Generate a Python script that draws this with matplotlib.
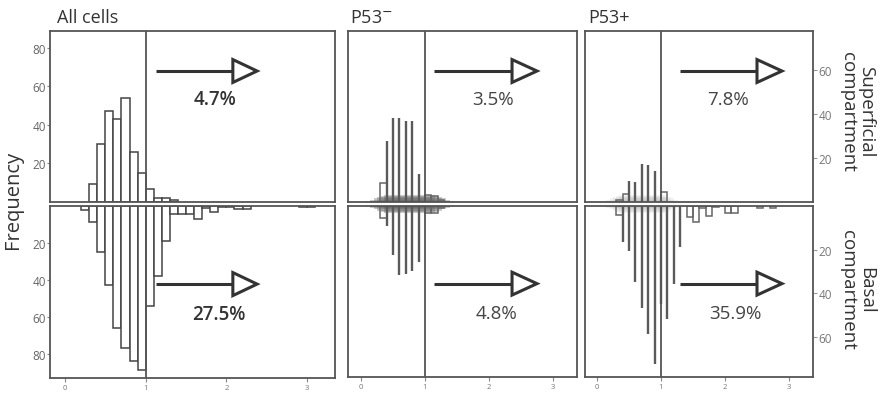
import numpy as np
import matplotlib
matplotlib.use('Agg')
import matplotlib.pyplot as plt
from matplotlib.patches import Polygon
from matplotlib.transforms import blended_transform_factory

plt.rcParams['font.family'] = ['Open Sans', 'DejaVu Sans']

# histogram bins (left edges, width 0.1) and counts
all_top_bins = [0.3, 0.4, 0.5, 0.6, 0.7, 0.8, 0.9, 1.0, 1.1, 1.2, 1.3]
all_top_counts = [9.5, 30, 47, 43, 54, 26, 15, 6.5, 2, 2, 1]
all_bot_bins = [0.2, 0.3, 0.4, 0.5, 0.6, 0.7, 0.8, 0.9, 1.0, 1.1, 1.2, 1.3, 1.4,
                1.5, 1.6, 1.7, 1.8, 1.9, 2.0, 2.1, 2.2, 2.9, 3.0]
all_bot_counts = [2, 8.6, 25, 42.7, 66, 77, 84, 88.6, 54, 38, 19, 4.5, 4.5,
                  4.5, 7, 1, 3.5, 0.5, 0.5, 1.5, 1.5, 0.4, 0.5]

neg_top_bins = [0.3, 0.4, 0.5, 0.6, 0.7, 0.8, 0.9, 1.0, 1.1, 1.2]
neg_top_counts = [8.6, 27.7, 38, 38, 37, 37, 12.7, 3, 2.5, 1]
neg_bot_bins = [0.3, 0.4, 0.5, 0.6, 0.7, 0.8, 0.9, 1.0, 1.1, 1.2]
neg_bot_counts = [5.5, 9.2, 22.4, 31.6, 31.3, 30, 25.7, 3, 3, 1]

pos_top_bins = [0.3, 0.4, 0.5, 0.6, 0.7, 0.8, 0.9, 1.0]
pos_top_counts = [1, 3.6, 9.6, 9.2, 17.3, 16.8, 14.2, 4.5]
pos_bot_bins = [0.3, 0.4, 0.5, 0.6, 0.7, 0.8, 0.9, 1.0, 1.1, 1.2, 1.3, 1.4,
                1.5, 1.6, 1.7, 1.8, 2.0, 2.1, 2.5, 2.7]
pos_bot_counts = [4, 16.5, 20.5, 35, 47, 59, 72.6, 45, 52, 36, 19, 5,
                  7.4, 1, 4.6, 0.5, 3, 3, 1, 1]

titles = ['All cells', 'P53$^{-}$', 'P53+']
pct_top = ['4.7%', '3.5%', '7.8%']
pct_bot = ['27.5%', '4.8%', '35.9%']
left_ticks = [20, 40, 60, 80]
right_ticks = [20, 40, 60]
x_ticks = [0, 1, 2, 3]

W, H = 887, 402
fig = plt.figure(figsize=(W / 100, H / 100), dpi=100)
fig.patch.set_facecolor('white')

edge = '#555555'


def px_axes(l, t, r, b):
    return fig.add_axes([l / W, 1 - b / H, (r - l) / W, (b - t) / H])


def style(ax):
    for s in ax.spines.values():
        s.set_color(edge)
        s.set_linewidth(1.3)
    ax.set_xticks([])
    ax.set_yticks([])


def boxes(ax, bins, counts):
    ax.bar(bins, counts, width=0.1, align='edge', facecolor='white',
           edgecolor='#444444', linewidth=1.1, zorder=2)


def lines(ax, bins, counts, cut=9):
    b = np.array(bins)
    c = np.array(counts)
    small = c < cut
    ax.bar(b[small], c[small], width=0.1, align='edge', facecolor='none',
           edgecolor='#666666', linewidth=1.1, zorder=2)
    ax.vlines(b[~small], 0, c[~small], color='#5a5a5a', linewidth=1.7, zorder=2)


def smear(ax, x0, x1, alpha):
    # soft dark band along the baseline, fading out in both directions
    w = x1 - x0
    for k in range(6):
        f = k / 6
        ax.axhspan(0, 0.6 + 0.5 * k, xmin=x0 + w * f * 0.25,
                   xmax=x1 - w * f * 0.25, color='#555555',
                   alpha=alpha * 0.35, linewidth=0, zorder=1)


def arrow(ax, x0, xb, xt, yf, hh):
    tr = blended_transform_factory(ax.transData, ax.transAxes)
    ax.plot([x0, xb], [yf, yf], color='#333333', linewidth=2.2, transform=tr,
            solid_capstyle='butt', zorder=4)
    ax.add_patch(Polygon([[xb, yf - hh], [xb, yf + hh], [xt, yf]], closed=True,
                         facecolor='white', edgecolor='#333333', linewidth=2.2,
                         transform=tr, zorder=5))


def pct(ax, x, yf, s, bold):
    tr = blended_transform_factory(ax.transData, ax.transAxes)
    ax.text(x, yf, s, transform=tr, ha='center', va='center', fontsize=13.5,
            color='#333333' if bold else '#444444',
            fontweight='semibold' if bold else 'normal')


frames = [(50, 335, 379), (348, 577, 378), (585, 813, 378)]
top_data = [(all_top_bins, all_top_counts), (neg_top_bins, neg_top_counts),
            (pos_top_bins, pos_top_counts)]
bot_data = [(all_bot_bins, all_bot_counts), (neg_bot_bins, neg_bot_counts),
            (pos_bot_bins, pos_bot_counts)]
# zero tick position (px) and px per unit on x for each panel
x_zero = [65, 361, 597]
x_unit = [80.7, 64, 64]
ymax_top = [88.8, 77.7, 77.7]
ymax_bot = [93, 78.6, 78.6]
arrows = [(1.13, 2.08, 2.38), (1.14, 2.36, 2.75), (1.30, 2.50, 2.89)]
pct_x_top = [1.86, 2.06, 2.05]
pct_x_bot = [1.90, 2.12, 2.16]
title_x = [0.025, 0.01, 0.013]
smears = [None, (0.08, 0.46, 0.9), (0.08, 0.42, 0.2)]

for i in range(3):
    l, r, b = frames[i]
    xl = ((l - x_zero[i]) / x_unit[i], (r - x_zero[i]) / x_unit[i])
    at = px_axes(l, 32, r, 203)
    ab = px_axes(l, 207, r, b)
    for ax in (at, ab):
        style(ax)
        ax.set_xlim(*xl)
        ax.axvline(1, color=edge, linewidth=1.3, zorder=3)
    at.set_ylim(0, ymax_top[i])
    ab.set_ylim(ymax_bot[i], 0)
    if i == 0:
        boxes(at, *top_data[i])
        boxes(ab, *bot_data[i])
    else:
        lines(at, *top_data[i])
        lines(ab, *bot_data[i])
        smear(at, *smears[i])
        smear(ab, *smears[i])
    x0, xb, xt = arrows[i]
    arrow(at, x0, xb, xt, 0.766, 0.067)
    arrow(ab, x0, xb, xt, 0.546, 0.067)
    pct(at, pct_x_top[i], 0.60, pct_top[i], i == 0)
    pct(ab, pct_x_bot[i], 0.373, pct_bot[i], i == 0)

    ab.set_xticks(x_ticks)
    ab.tick_params(axis='x', length=3, width=0.8, color='#888888', pad=1,
                   labelsize=5.5, labelcolor='#777777')
    at.text(title_x[i], 1.03, titles[i], transform=at.transAxes, ha='left',
            va='bottom', fontsize=13, color='#333333')

    if i == 0:
        at.set_yticks(left_ticks)
        ab.set_yticks(left_ticks)
        for ax in (at, ab):
            ax.tick_params(axis='y', length=2, width=0.8, color='#888888',
                           pad=1, labelsize=8.5, labelcolor='#666666')
    if i == 2:
        for ax in (at, ab):
            ax.yaxis.tick_right()
            ax.set_yticks(right_ticks)
            ax.tick_params(axis='y', length=3, width=0.8, color='#999999',
                           pad=1, labelsize=8.5, labelcolor='#777777')

fig.text(13 / W, 1 - 200 / H, 'Frequency', rotation=90, ha='center',
         va='center', fontsize=14.5, color='#333333')
fig.text(857 / W, 1 - 112 / H, 'Superficial\ncompartment', rotation=-90,
         ha='center', va='center', fontsize=13.5, color='#333333',
         linespacing=1.0)
fig.text(857 / W, 1 - 290 / H, 'Basal\ncompartment', rotation=-90,
         ha='center', va='center', fontsize=13.5, color='#333333',
         linespacing=1.0)

fig.savefig('out.png', dpi=100, facecolor='white')
